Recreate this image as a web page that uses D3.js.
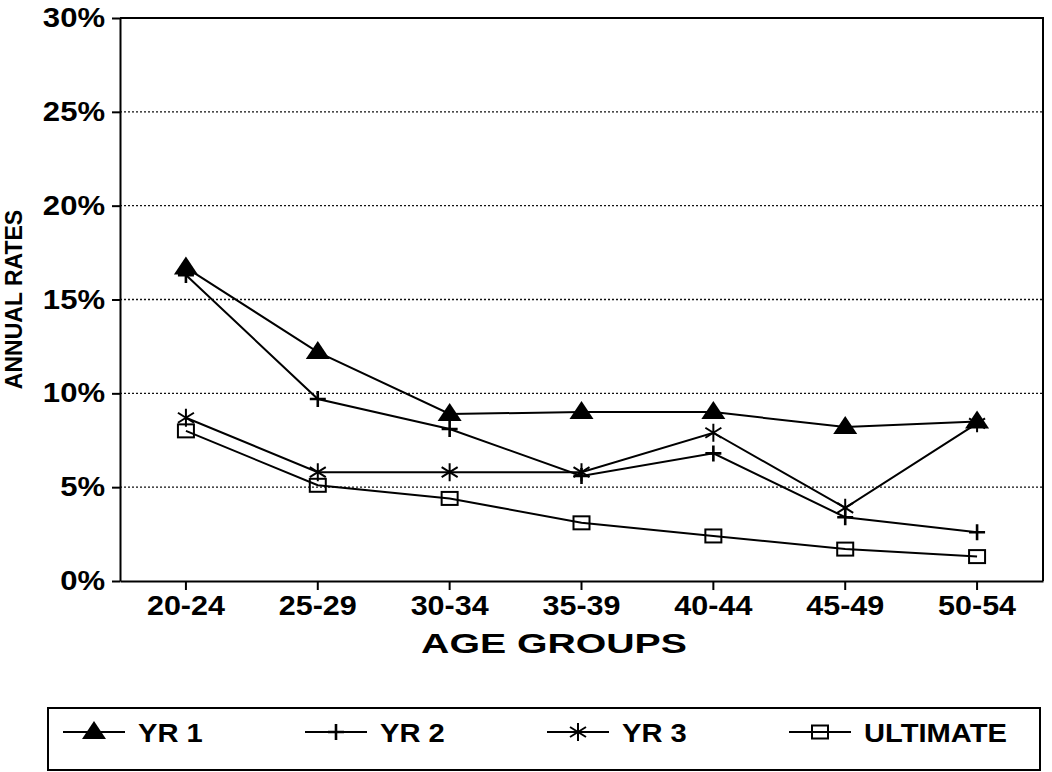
<!DOCTYPE html>
<html lang="en">
<head>
  <meta charset="utf-8">
  <title>Annual rates by age group</title>
  <script src="https://d3js.org/d3.v7.min.js"></script>
  <style>
    body { margin: 0; background: #fff; }
    svg text { font-family: "Liberation Sans", Arial, sans-serif; font-weight: bold; fill: #000; }
    .axis path, .axis line { stroke: #000; stroke-width: 2; fill: none; }
    .grid line { stroke: #111; stroke-width: 1.4; stroke-dasharray: 2,2; }
    .series path.line { fill: none; stroke: #000; stroke-width: 2; }
  </style>
</head>
<body>
<div id="chart"></div>
<script>
// data (annual rates, %)
var ageGroups = ["20-24", "25-29", "30-34", "35-39", "40-44", "45-49", "50-54"];
var yr1 = [16.7, 12.2, 8.9, 9.0, 9.0, 8.2, 8.5];
var yr2 = [16.3, 9.7, 8.1, 5.6, 6.8, 3.4, 2.6];
var yr3 = [8.7, 5.8, 5.8, 5.8, 7.9, 3.9, 8.4];
var ultimate = [8.0, 5.1, 4.4, 3.1, 2.4, 1.7, 1.3];
var seriesNames = ["YR 1", "YR 2", "YR 3", "ULTIMATE"];
var yTicks = [0, 5, 10, 15, 20, 25, 30];

var W = 1052, H = 772;
var margin = {top: 18, right: 9, bottom: 191, left: 120};
var width = W - margin.left - margin.right,
    height = H - margin.top - margin.bottom;

var svg = d3.select("#chart").append("svg")
    .attr("width", W)
    .attr("height", H);

var g = svg.append("g")
    .attr("transform", "translate(" + margin.left + "," + margin.top + ")");

var x = d3.scaleBand().domain(ageGroups).range([0, width]).padding(0);
var y = d3.scaleLinear().domain([0, 30]).range([height, 0]);

// stretch text a bit wider, the scan's lettering is broad
function stretch(sel, k) {
  sel.each(function() {
    var n = this.getComputedTextLength();
    d3.select(this).attr("textLength", n * k).attr("lengthAdjust", "spacingAndGlyphs");
  });
}

// dotted gridlines
g.append("g").attr("class", "grid")
  .selectAll("line")
  .data(yTicks.filter(function(d) { return d > 0 && d < 30; }))
  .enter().append("line")
    .attr("x1", 0).attr("x2", width)
    .attr("y1", function(d) { return y(d); })
    .attr("y2", function(d) { return y(d); });

// frame top + right
g.append("path")
  .attr("d", "M0," + y(30) + "H" + width + "V" + y(0))
  .attr("fill", "none").attr("stroke", "#000").attr("stroke-width", 2);

// axes
var yAxis = g.append("g").attr("class", "axis")
  .call(d3.axisLeft(y).tickValues(yTicks).tickFormat(function(d) { return d + "%"; })
        .tickSize(8).tickSizeOuter(0).tickPadding(7));
yAxis.selectAll("text").style("font-size", "27px");
stretch(yAxis.selectAll("text"), 1.15);

var xAxis = g.append("g").attr("class", "axis")
  .attr("transform", "translate(0," + height + ")")
  .call(d3.axisBottom(x).tickSize(9).tickSizeOuter(0).tickPadding(6));
xAxis.selectAll("text").style("font-size", "27px");
stretch(xAxis.selectAll("text"), 1.13);

var xTitle = g.append("text")
  .attr("x", 434).attr("y", height + 72)
  .attr("text-anchor", "middle")
  .style("font-size", "28px")
  .text("AGE GROUPS");
stretch(xTitle, 1.4);

// y title sits at the far left edge
svg.append("text")
  .attr("transform", "translate(22," + (margin.top + height / 2) + ") rotate(-90)")
  .attr("text-anchor", "middle")
  .style("font-size", "23px")
  .text("ANNUAL RATES");

// markers
var markers = {
  "YR 1": function(s) { s.append("path").attr("d", "M0,-11L12,7L-12,7Z").attr("fill", "#000"); },
  "YR 2": function(s) { s.append("path").attr("d", "M-8,0H8M0,-8V8").attr("stroke", "#000").attr("stroke-width", 2.6); },
  "YR 3": function(s) { s.append("path").attr("d", "M0,-9V9M-8,-5L8,5M-8,5L8,-5").attr("stroke", "#000").attr("stroke-width", 2); },
  "ULTIMATE": function(s) { s.append("rect").attr("x", -8).attr("y", -6.5).attr("width", 16).attr("height", 13)
                              .attr("fill", "none").attr("stroke", "#000").attr("stroke-width", 2); }
};

var allSeries = [yr1, yr2, yr3, ultimate];
var line = d3.line()
  .x(function(d, i) { return x(ageGroups[i]) + x.bandwidth() / 2; })
  .y(function(d) { return y(d); });

allSeries.forEach(function(vals, si) {
  var sg = g.append("g").attr("class", "series");
  sg.append("path").attr("class", "line").attr("d", line(vals));
  sg.selectAll("g.pt")
    .data(vals)
    .enter().append("g")
      .attr("class", "pt")
      .attr("transform", function(d, i) {
        return "translate(" + (x(ageGroups[i]) + x.bandwidth() / 2) + "," + y(d) + ")";
      })
      .call(markers[seriesNames[si]]);
});

// legend
var legend = svg.append("g");
legend.append("rect")
  .attr("x", 48).attr("y", 708).attr("width", 992).attr("height", 62)
  .attr("fill", "none").attr("stroke", "#000").attr("stroke-width", 2);

var lx = d3.scaleLinear().domain([0, 1]).range([63, 305]);
seriesNames.forEach(function(name, i) {
  var item = legend.append("g").attr("transform", "translate(" + lx(i) + ",732)");
  item.append("line").attr("x1", 0).attr("x2", 62).attr("stroke", "#000").attr("stroke-width", 2);
  item.append("g").attr("transform", "translate(31,0)").call(markers[name]);
  var t = item.append("text").attr("x", 75).attr("y", 10)
    .style("font-size", "26px").text(name);
  stretch(t, 1.12);
});
</script>
</body>
</html>
